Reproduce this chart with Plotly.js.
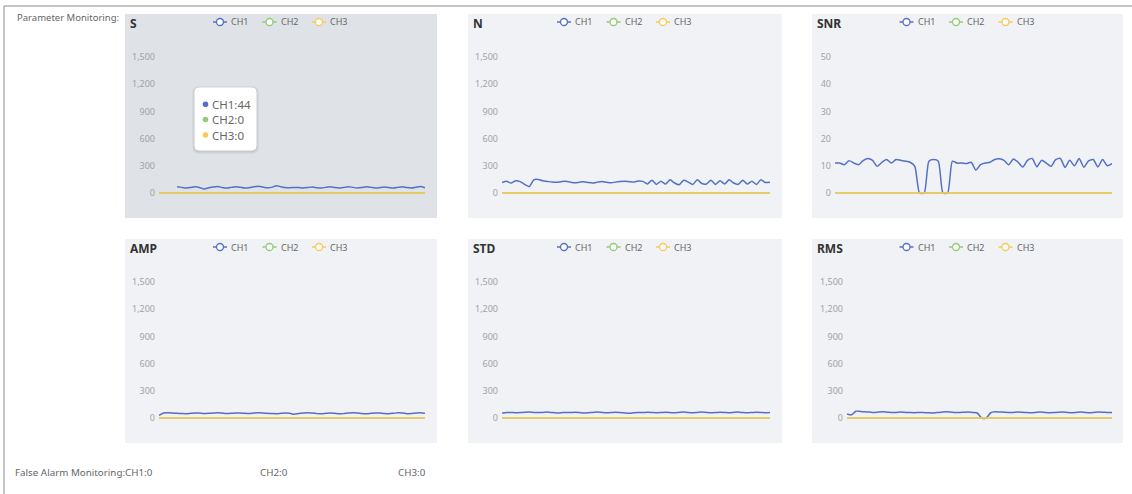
<!DOCTYPE html>
<html>
<head>
<meta charset="utf-8">
<script src="https://cdn.plot.ly/plotly-3.0.1.min.js"></script>
<style>
html,body{margin:0;padding:0;background:#fff;overflow:hidden}
#chart{width:1132px;height:494px}
</style>
</head>
<body>
<div id="chart"></div>
<script>
// ---------------- data ----------------
const samples = [1,2,3,4,5,6,7,8,9,10,11,12,13,14,15,16,17,18,19,20,21,22,23,24,25,26,27,28,29,30,
                 31,32,33,34,35,36,37,38,39,40,41,42,43,44,45,46,47,48,49,50,51,52,53,54,55,56,57,58,59,60];
const channels = ['CH1','CH2','CH3'];
const channelColors = ['#5470c6','#91cc75','#fac858'];
const panelTitles = ['S','N','SNR','AMP','STD','RMS'];

const sCh1 = [null,null,null,null,
  70,62,55,60,68,60,44,58,66,72,60,54,62,70,64,55,58,68,74,66,
  58,62,80,70,60,58,62,60,56,60,66,58,54,62,68,60,55,62,70,62,
  56,60,68,62,55,60,66,60,54,62,70,60,56,64,72,58];
const nCh1 = [115,130,110,135,125,95,70,145,150,135,
  128,120,118,125,130,120,112,118,125,115,110,120,128,118,112,120,126,130,125,120,132,128,100,
  140,95,130,100,145,110,90,140,120,95,145,105,100,140,95,135,100,145,110,95,140,100,130,95,145,115,120];
const snrCh1 = [11.0,11.0,10.4,11.9,11.0,10.4,11.9,12.7,12.0,9.8,
  11.3,12.3,11.0,12.3,12.0,11.7,11.3,9.8,0,0,
  11.7,12.3,11.7,0,0,11.7,11.0,11.0,10.8,11.3,
  8.4,10.4,11.0,11.3,12.3,12.6,12.0,10.4,12.5,11.3,
  9.6,12.0,12.7,9.6,12.0,11.0,9.8,12.3,12.7,9.4,
  12.0,10.0,12.7,9.5,11.8,12.3,9.6,12.3,10.0,10.8];
const ampCh1 = [28,55,58,55,52,50,48,52,56,54,50,52,55,58,54,50,52,56,55,52,
  50,54,57,55,52,50,48,52,56,52,42,50,55,58,54,50,48,52,56,52,
  48,50,54,58,55,50,48,52,56,55,50,48,52,57,54,48,50,55,58,52];
const stdCh1 = [55,60,62,58,60,64,66,62,60,62,65,60,56,58,62,60,64,60,55,58,
  62,66,62,58,60,64,60,56,52,58,62,60,64,62,58,60,63,60,57,62,
  65,60,58,62,66,62,58,60,64,62,58,62,65,60,57,60,64,62,58,62];
const rmsCh1 = [45,35,75,72,68,65,62,65,68,64,60,62,65,62,60,58,62,60,58,56,
  60,64,68,66,62,60,64,66,62,55,0,0,58,68,66,64,60,62,66,64,
  60,58,62,66,62,58,60,64,66,62,58,62,66,62,58,62,66,64,60,62];
const zeroSeries = [0,0,0,0,0,0,0,0,0,0,0,0,0,0,0,0,0,0,0,0,0,0,0,0,0,0,0,0,0,0,
                    0,0,0,0,0,0,0,0,0,0,0,0,0,0,0,0,0,0,0,0,0,0,0,0,0,0,0,0,0,0];
const bigTicks = [0,300,600,900,1200,1500];
const snrTicks = [0,10,20,30,40,50];
const falseAlarms = [0,0,0];
const tooltipIndex = 10;

// ---------------- geometry (pixels) ----------------
const W = 1132, H = 494;
const fx = p => p / W;
const fy = p => 1 - p / H;
const FONT = '"Noto Sans", "Open Sans", sans-serif';

const panels = [
  {title: panelTitles[0], series: [sCh1, zeroSeries, zeroSeries],   ticks: bigTicks, box: [125, 14, 437, 218], plot: [159, 425],  yTop: 57,  yZero: 193, bg: '#dfe2e6'},
  {title: panelTitles[1], series: [nCh1, zeroSeries, zeroSeries],   ticks: bigTicks, box: [468, 14, 782, 218], plot: [502, 770],  yTop: 57,  yZero: 193, bg: '#f0f2f5'},
  {title: panelTitles[2], series: [snrCh1, zeroSeries, zeroSeries], ticks: snrTicks, box: [812, 14, 1123, 218], plot: [835, 1112], yTop: 57,  yZero: 193, bg: '#f0f2f5'},
  {title: panelTitles[3], series: [ampCh1, zeroSeries, zeroSeries], ticks: bigTicks, box: [125, 239, 437, 443], plot: [159, 425],  yTop: 282, yZero: 418, bg: '#f0f2f5'},
  {title: panelTitles[4], series: [stdCh1, zeroSeries, zeroSeries], ticks: bigTicks, box: [468, 239, 782, 443], plot: [502, 770],  yTop: 282, yZero: 418, bg: '#f0f2f5'},
  {title: panelTitles[5], series: [rmsCh1, zeroSeries, zeroSeries], ticks: bigTicks, box: [812, 239, 1123, 443], plot: [847, 1112], yTop: 282, yZero: 418, bg: '#f0f2f5'}
];

const data = [];
const shapes = [];
const annotations = [];
const layout = {
  width: W, height: H, autosize: false,
  margin: {l: 0, r: 0, t: 0, b: 0, pad: 0},
  paper_bgcolor: '#ffffff', plot_bgcolor: 'rgba(0,0,0,0)',
  font: {family: FONT, color: '#666'},
  showlegend: false, hovermode: false
};

function roundRectPath(x0, y0, x1, y1, r) {
  const rx = r / W, ry = r / H;
  const X0 = fx(x0), X1 = fx(x1), Y0 = fy(y0), Y1 = fy(y1);
  return 'M' + (X0 + rx) + ',' + Y0 +
    ' L' + (X1 - rx) + ',' + Y0 + ' Q' + X1 + ',' + Y0 + ' ' + X1 + ',' + (Y0 - ry) +
    ' L' + X1 + ',' + (Y1 + ry) + ' Q' + X1 + ',' + Y1 + ' ' + (X1 - rx) + ',' + Y1 +
    ' L' + (X0 + rx) + ',' + Y1 + ' Q' + X0 + ',' + Y1 + ' ' + X0 + ',' + (Y1 + ry) +
    ' L' + X0 + ',' + (Y0 - ry) + ' Q' + X0 + ',' + Y0 + ' ' + (X0 + rx) + ',' + Y0 + ' Z';
}

function pixelCircle(cx, cy, r, fill, stroke, lw) {
  return {type: 'circle', xref: 'paper', yref: 'paper', xsizemode: 'pixel', ysizemode: 'pixel',
    xanchor: fx(cx), yanchor: fy(cy), x0: -r, x1: r, y0: -r, y1: r,
    fillcolor: fill, line: {color: stroke, width: lw}, layer: 'above'};
}

panels.forEach((p, i) => {
  const n = i + 1;
  const sfx = n === 1 ? '' : String(n);
  const pad = 3;
  const maxV = p.ticks[p.ticks.length - 1];
  const unitPx = (p.yZero - p.yTop) / maxV;

  layout['xaxis' + sfx] = {
    domain: [fx(p.plot[0]), fx(p.plot[1])],
    range: [samples[0], samples[samples.length - 1]],
    visible: false, anchor: 'y' + sfx, fixedrange: true
  };
  layout['yaxis' + sfx] = {
    domain: [fy(p.yZero + pad), fy(p.yTop)],
    range: [-pad / unitPx, maxV],
    tickmode: 'array', tickvals: p.ticks, tickformat: ',',
    showgrid: false, zeroline: false, showline: false, ticks: '',
    ticklabelstandoff: 3,
    tickfont: {family: FONT, size: 9, color: '#a3a3a3'},
    anchor: 'x' + sfx, fixedrange: true
  };

  p.series.forEach((ys, k) => {
    data.push({
      type: 'scatter', mode: 'lines', x: samples, y: ys,
      xaxis: 'x' + sfx, yaxis: 'y' + sfx,
      line: {color: channelColors[k], width: 1.5, shape: 'spline', smoothing: 0.6},
      connectgaps: false, hoverinfo: 'skip', showlegend: false, name: channels[k]
    });
  });

  shapes.push({type: 'rect', xref: 'paper', yref: 'paper',
    x0: fx(p.box[0]), x1: fx(p.box[2]), y0: fy(p.box[3]), y1: fy(p.box[1]),
    fillcolor: p.bg, line: {width: 0}, layer: 'below'});

  annotations.push({xref: 'paper', yref: 'paper', x: fx(p.box[0] + 3), y: fy(p.box[1] + 9.3),
    xanchor: 'left', yanchor: 'middle', showarrow: false,
    text: '<b>' + p.title + '</b>', font: {family: FONT, size: 12, color: '#333'}});

  const cx = (p.box[0] + p.box[2]) / 2;
  const ly = p.box[1] + 8;
  channels.forEach((c, k) => {
    const sx = cx - 68 + k * 49.5;
    shapes.push({type: 'line', xref: 'paper', yref: 'paper',
      x0: fx(sx), x1: fx(sx + 14), y0: fy(ly), y1: fy(ly),
      line: {color: channelColors[k], width: 1.5}, layer: 'above'});
    shapes.push(pixelCircle(sx + 7, ly, 3.5, '#ffffff', channelColors[k], 1.3));
    annotations.push({xref: 'paper', yref: 'paper', x: fx(sx + 16), y: fy(ly),
      xanchor: 'left', yanchor: 'middle', showarrow: false, text: c,
      font: {family: FONT, size: 9, color: '#666'}});
  });
});

// tooltip (S panel)
const tip = [195, 88, 256, 150];
[3, 2, 1].forEach((g) => {
  shapes.push({type: 'path', xref: 'paper', yref: 'paper',
    path: roundRectPath(tip[0] - g, tip[1] - g + 1, tip[2] + g, tip[3] + g + 1, 4 + g),
    fillcolor: 'rgba(0,0,0,0.035)', line: {width: 0}, layer: 'above'});
});
shapes.push({type: 'path', xref: 'paper', yref: 'paper',
  path: roundRectPath(tip[0], tip[1], tip[2], tip[3], 4),
  fillcolor: '#ffffff', line: {color: '#ffffff', width: 1}, layer: 'above'});
const tipValues = [panels[0].series[0][tooltipIndex], panels[0].series[1][tooltipIndex], panels[0].series[2][tooltipIndex]];
const tipRows = [104.3, 119.5, 135];
channels.forEach((c, k) => {
  shapes.push(pixelCircle(205.5, tipRows[k], 2.8, channelColors[k], channelColors[k], 0));
  annotations.push({xref: 'paper', yref: 'paper', x: fx(209.5), y: fy(tipRows[k]),
    xanchor: 'left', yanchor: 'middle', showarrow: false,
    text: c + ':' + tipValues[k], font: {family: FONT, size: 11.5, color: '#666'}});
});

// page frame lines
shapes.push({type: 'line', xref: 'paper', yref: 'paper', x0: fx(4), x1: 1, y0: fy(6), y1: fy(6),
  line: {color: '#8a8a8a', width: 1}, layer: 'above'});
shapes.push({type: 'line', xref: 'paper', yref: 'paper', x0: fx(4), x1: fx(4), y0: fy(6), y1: 0,
  line: {color: '#8a8a8a', width: 1}, layer: 'above'});

// page texts
annotations.push({xref: 'paper', yref: 'paper', x: fx(15), y: fy(17), xanchor: 'left', yanchor: 'middle',
  showarrow: false, text: 'Parameter Monitoring:', font: {family: FONT, size: 9.5, color: '#666'}});
annotations.push({xref: 'paper', yref: 'paper', x: fx(13), y: fy(472), xanchor: 'left', yanchor: 'middle',
  showarrow: false, text: 'False Alarm Monitoring:' + channels[0] + ':' + falseAlarms[0],
  font: {family: FONT, size: 9.8, color: '#666'}});
annotations.push({xref: 'paper', yref: 'paper', x: fx(258), y: fy(472), xanchor: 'left', yanchor: 'middle',
  showarrow: false, text: channels[1] + ':' + falseAlarms[1], font: {family: FONT, size: 9.8, color: '#666'}});
annotations.push({xref: 'paper', yref: 'paper', x: fx(396), y: fy(472), xanchor: 'left', yanchor: 'middle',
  showarrow: false, text: channels[2] + ':' + falseAlarms[2], font: {family: FONT, size: 9.8, color: '#666'}});

layout.shapes = shapes;
layout.annotations = annotations;

Plotly.newPlot('chart', data, layout, {displayModeBar: false, staticPlot: true});
</script>
</body>
</html>
